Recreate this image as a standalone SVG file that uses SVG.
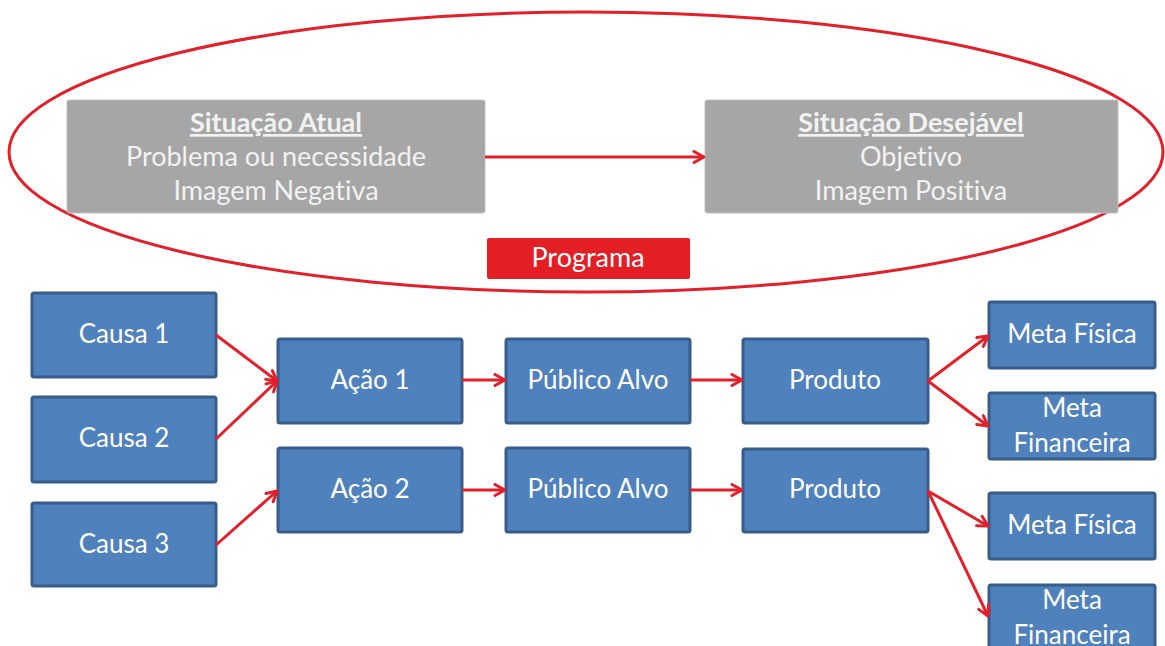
<svg xmlns="http://www.w3.org/2000/svg" width="1165" height="646" viewBox="0 0 1165 646">
<style>
text{font-variant-ligatures:none;font-feature-settings:"liga" 0,"dlig" 0}
.gray{fill:#a6a6a6;stroke:#bfbfbf;stroke-width:1}
.gt{font-family:Lato,"Liberation Sans",sans-serif;font-size:27px;fill:#f2f2f2;text-anchor:middle}
.gh{font-weight:bold;text-decoration:underline}
.blue{fill:#4f81bd;stroke:#385d8a;stroke-width:3}
.bt{font-family:Lato,"Liberation Sans",sans-serif;font-size:26px;fill:#ffffff;text-anchor:middle}
.con{stroke:#e3202a;stroke-width:3;fill:none;marker-end:url(#ah)}
</style>
<defs>
<marker id="ah" viewBox="0 0 14 14" refX="12" refY="7" markerWidth="14" markerHeight="14" markerUnits="userSpaceOnUse" orient="auto">
<path d="M2,1.5 L12,7 L2,12.5" fill="none" stroke="#e3202a" stroke-width="3" stroke-linecap="round" stroke-linejoin="round"/>
</marker>
</defs>
<rect width="1165" height="646" fill="#ffffff"/>
<ellipse cx="586" cy="152" rx="577" ry="140" fill="none" stroke="#e3202a" stroke-width="3"/>
<g id="situacao-atual">
<rect class="gray" x="67" y="100" width="418" height="113" rx="2"/>
<text class="gt gh" x="276" y="132">Situação Atual</text>
<text class="gt" x="276" y="166">Problema ou necessidade</text>
<text class="gt" x="276" y="200">Imagem Negativa</text>
</g>
<g id="situacao-desejavel">
<rect class="gray" x="705" y="100" width="413" height="113" rx="2"/>
<text class="gt gh" x="911" y="132">Situação Desejável</text>
<text class="gt" x="911" y="166">Objetivo</text>
<text class="gt" x="911" y="200">Imagem Positiva</text>
</g>
<g id="programa">
<rect x="487" y="238" width="203" height="41" rx="2" fill="#e31e24"/>
<text class="gt" x="588" y="267" style="fill:#ffffff">Programa</text>
</g>
<g id="causa1"><rect class="blue" x="32" y="293" width="184" height="84" rx="2"/><text class="bt" x="124" y="343">Causa 1</text></g>
<g id="causa2"><rect class="blue" x="32" y="397" width="184" height="85" rx="2"/><text class="bt" x="124" y="447">Causa 2</text></g>
<g id="causa3"><rect class="blue" x="32" y="503" width="184" height="83" rx="2"/><text class="bt" x="124" y="553">Causa 3</text></g>
<g id="acao1"><rect class="blue" x="278" y="339" width="184" height="84" rx="2"/><text class="bt" x="370" y="389">Ação 1</text></g>
<g id="acao2"><rect class="blue" x="278" y="448" width="184" height="84" rx="2"/><text class="bt" x="370" y="498">Ação 2</text></g>
<g id="publico1"><rect class="blue" x="506" y="339" width="184" height="84" rx="2"/><text class="bt" x="598" y="389">Público Alvo</text></g>
<g id="publico2"><rect class="blue" x="506" y="448" width="184" height="84" rx="2"/><text class="bt" x="598" y="498">Público Alvo</text></g>
<g id="produto1"><rect class="blue" x="743" y="339" width="185" height="84" rx="2"/><text class="bt" x="835" y="389">Produto</text></g>
<g id="produto2"><rect class="blue" x="743" y="449" width="185" height="83" rx="2"/><text class="bt" x="835" y="498">Produto</text></g>
<g id="meta-fisica1"><rect class="blue" x="989" y="302" width="166" height="66" rx="2"/><text class="bt" x="1072" y="343">Meta Física</text></g>
<g id="meta-financeira1"><rect class="blue" x="989" y="393" width="166" height="66" rx="2"/><text class="bt" x="1072" y="417">Meta</text><text class="bt" x="1072" y="452">Financeira</text></g>
<g id="meta-fisica2"><rect class="blue" x="989" y="493" width="166" height="66" rx="2"/><text class="bt" x="1072" y="534">Meta Física</text></g>
<g id="meta-financeira2"><rect class="blue" x="989" y="585" width="166" height="70" rx="2"/><text class="bt" x="1072" y="609">Meta</text><text class="bt" x="1072" y="644">Financeira</text></g>
<g id="connectors">
<line class="con" x1="485" y1="157" x2="704" y2="157"/>
<line class="con" x1="216" y1="335" x2="277" y2="381"/>
<line class="con" x1="216" y1="439" x2="277" y2="381"/>
<line class="con" x1="216" y1="545" x2="277" y2="491"/>
<line class="con" x1="462" y1="380" x2="505" y2="380"/>
<line class="con" x1="690" y1="380" x2="742" y2="380"/>
<line class="con" x1="462" y1="490" x2="505" y2="490"/>
<line class="con" x1="690" y1="490" x2="742" y2="490"/>
<line class="con" x1="928" y1="381" x2="988" y2="336"/>
<line class="con" x1="928" y1="381" x2="988" y2="426"/>
<line class="con" x1="928" y1="491" x2="988" y2="526"/>
<line class="con" x1="928" y1="491" x2="988" y2="616"/>
</g>
</svg>
